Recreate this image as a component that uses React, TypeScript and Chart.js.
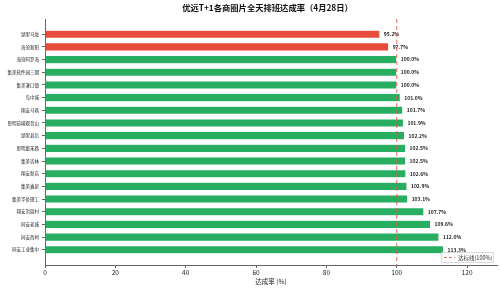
import React, { useEffect, useRef } from "react";
import { Chart, registerables } from "chart.js";

Chart.register(...registerables);

const categories = [
  "湖里马垅", "海沧新阳", "海沧阿罗海", "集美软件园三期", "集美灌口镇", "岛中城",
  "翔安马巷", "思明前埔观音山", "湖里县后", "思明董禾路", "集美杏林", "翔安新店",
  "集美鑫泉", "集美华侨理工", "翔安洪厝村", "同安老城", "同安西柯", "同安工业集中",
];
const rates = [
  95.2, 97.7, 100.0, 100.0, 100.0, 101.0, 101.7, 101.9, 102.2, 102.5, 102.5, 102.6,
  102.9, 103.1, 107.7, 109.6, 112.0, 113.3,
];
const xTicks = [0, 20, 40, 60, 80, 100, 120];
const target = 100;
const titleText = "优远T+1各商圈片全天排班达成率（4月28日）";
const xTitle = "达成率 (%)";
const legendText = "达标线(100%)";

const FONT = "'Noto Sans CJK SC', 'Noto Sans', sans-serif";

export default function App() {
  const ref = useRef<HTMLCanvasElement | null>(null);
  useEffect(() => {
    document.body.style.margin = "0";
    const canvas = ref.current!;
    const overlay = {
      id: "overlay",
      afterDatasetsDraw(chart: any) {
        const ctx = chart.ctx;
        const xs = chart.scales.x;
        const ys = chart.scales.y;
        const area = chart.chartArea;
        ctx.save();
        // value labels
        ctx.font = `bold 5px ${FONT}`;
        ctx.fillStyle = "#222";
        ctx.textBaseline = "middle";
        ctx.textAlign = "left";
        rates.forEach((v, i) => {
          ctx.fillText(v.toFixed(1) + "%", xs.getPixelForValue(v) + 4, ys.getPixelForValue(i));
        });
        // target line
        const tx = xs.getPixelForValue(target);
        ctx.strokeStyle = "rgba(236,80,70,0.85)";
        ctx.lineWidth = 1;
        ctx.setLineDash([4, 3]);
        ctx.beginPath();
        ctx.moveTo(tx, area.top);
        ctx.lineTo(tx, area.bottom);
        ctx.stroke();
        // legend
        ctx.setLineDash([]);
        const lx = 441, ly = 252, lw = 52, lh = 10;
        ctx.fillStyle = "rgba(255,255,255,0.9)";
        ctx.strokeStyle = "#d0d0d0";
        ctx.lineWidth = 0.8;
        ctx.beginPath();
        ctx.rect(lx + 0.5, ly + 0.5, lw, lh);
        ctx.fill();
        ctx.stroke();
        ctx.strokeStyle = "rgba(236,80,70,0.85)";
        ctx.lineWidth = 1;
        ctx.setLineDash([3, 2]);
        ctx.beginPath();
        ctx.moveTo(lx + 3, ly + lh / 2 + 0.5);
        ctx.lineTo(lx + 14, ly + lh / 2 + 0.5);
        ctx.stroke();
        ctx.setLineDash([]);
        ctx.fillStyle = "#333";
        ctx.font = `5.5px ${FONT}`;
        ctx.fillText(legendText, lx + 17, ly + lh / 2 + 0.5);
        // title
        ctx.font = `bold 8.3px ${FONT}`;
        ctx.fillStyle = "#111";
        ctx.textAlign = "center";
        ctx.fillText(titleText, 267.5, 7.5);
        // x title
        ctx.font = `6.5px ${FONT}`;
        ctx.fillStyle = "#222";
        ctx.fillText(xTitle, (area.left + area.right) / 2, 281.5);
        ctx.restore();
      },
    };
    const chart = new Chart(canvas, {
      type: "bar",
      data: {
        datasets: [
          {
            data: rates.map((v, i) => ({ x: v, y: i })),
            backgroundColor: rates.map((v) => (v < target ? "#e74c3c" : "#27ae60")),
            borderColor: "rgba(255,255,255,0.7)",
            borderWidth: 0.5,
            barPercentage: 0.64,
            categoryPercentage: 1,
          },
        ],
      },
      options: {
        indexAxis: "y",
        animation: false,
        responsive: false,
        maintainAspectRatio: false,
        layout: { padding: { top: 19, right: 3, left: 0, bottom: 0 } },
        plugins: { legend: { display: false }, tooltip: { enabled: false }, title: { display: false } },
        scales: {
          x: {
            type: "linear",
            min: 0,
            max: 128.5,
            afterBuildTicks: (s: any) => {
              s.ticks = xTicks.map((v) => ({ value: v }));
            },
            afterFit: (s: any) => {
              s.height = 24;
            },
            grid: { drawOnChartArea: false, drawTicks: true, tickLength: 3, color: "#666" },
            border: { display: true, color: "#666", width: 1 },
            ticks: { color: "#222", font: { family: FONT, size: 6.5 }, padding: 1 },
          },
          y: {
            type: "linear",
            reverse: true,
            offset: false,
            min: -1.2,
            max: 18.2,
            afterBuildTicks: (s: any) => {
              s.ticks = categories.map((_, i) => ({ value: i }));
            },
            afterFit: (s: any) => {
              s.width = 45;
            },
            grid: { drawOnChartArea: false, drawTicks: true, tickLength: 3, color: "#666", offset: false },
            border: { display: true, color: "#666", width: 1 },
            ticks: {
              color: "#222",
              font: { family: FONT, size: 4.5 },
              padding: 3,
              callback: (v: any) => categories[v] ?? "",
            },
          },
        },
      },
      plugins: [overlay],
    });
    return () => chart.destroy();
  }, []);
  return (
    <div style={{ position: "absolute", left: 0, top: 0, width: 500, height: 289 }}>
      <canvas ref={ref} width={500} height={289} style={{ width: 500, height: 289 }} />
    </div>
  );
}
